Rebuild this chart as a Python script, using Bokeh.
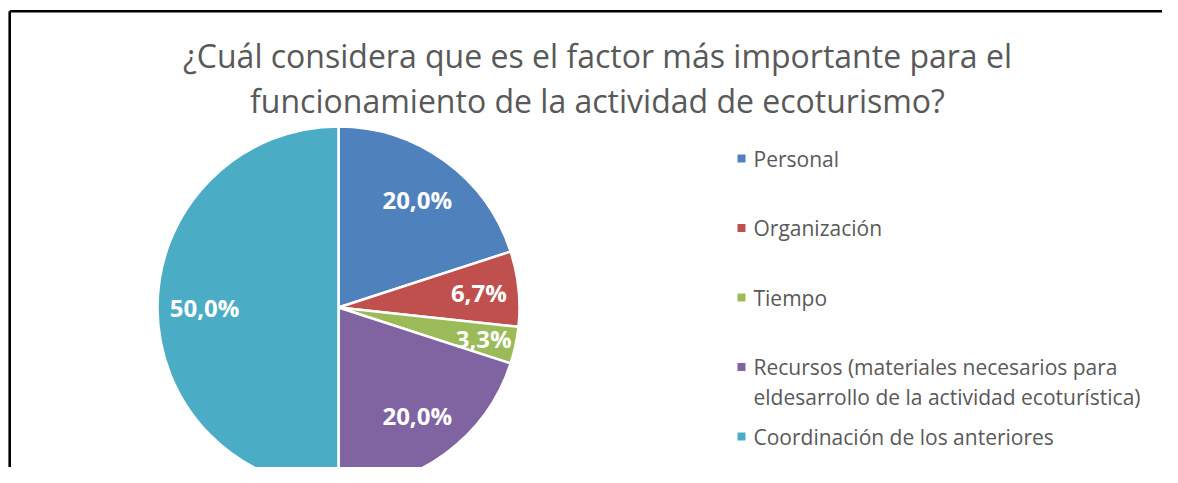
import numpy as np
from bokeh.plotting import figure
from bokeh.models import Range1d, ColumnDataSource
from bokeh.core.properties import value
from bokeh.embed import file_html
from bokeh.resources import INLINE

# ---- data ----
categories = [
    "Personal",
    "Organización",
    "Tiempo",
    "Recursos (materiales necesarios para\neldesarrollo de la actividad ecoturística)",
    "Coordinación de los anteriores",
]
shares = [20.0, 6.7, 3.3, 20.0, 50.0]
colors = ["#4F81BD", "#C0504D", "#9BBB59", "#8064A2", "#4BACC6"]
title_lines = [
    "¿Cuál considera que es el factor más importante para el",
    "funcionamiento de la actividad de ecoturismo?",
]

W, H = 1162, 467
FONT = "Open Sans"
TXT = "#595959"

def sy(y_screen):
    return H - y_screen

def sx(x_screen):
    return x_screen

p = figure(width=W, height=H, x_range=Range1d(0, W), y_range=Range1d(0, H),
           output_backend="svg", toolbar_location=None,
           min_border=0, min_border_left=0, min_border_right=0,
           min_border_top=0, min_border_bottom=0)
p.axis.visible = False
p.grid.visible = False
p.outline_line_color = None
p.background_fill_color = "white"
p.border_fill_color = "white"

# frame (top and left edges)
p.segment(x0=[sx(9.2), sx(9.2)], y0=[sy(10.8), sy(10.8)],
          x1=[sx(W), sx(9.2)], y1=[sy(10.8), sy(H)],
          line_color="black", line_width=2.6)

# ---- pie ----
cx, cy, R = sx(338), sy(307), 181
fr = np.array(shares) / sum(shares)
cum = np.concatenate([[0], np.cumsum(fr)])
start = np.pi / 2 - 2 * np.pi * cum[:-1]
end = np.pi / 2 - 2 * np.pi * cum[1:]
src = ColumnDataSource(dict(start=start, end=end, color=colors))
p.wedge(x=cx, y=cy, radius=R, start_angle="start", end_angle="end",
        direction="clock", fill_color="color", line_color="white",
        line_width=2.5, source=src)

# data labels
mid = (start + end) / 2
rf = 0.74 + np.clip(0.1 - fr, 0, None) * 1.2
lx = cx + R * rf * np.cos(mid)
ly = cy + R * rf * np.sin(mid)
labels = [f"{v:.1f}".replace(".", ",") + "%" for v in shares]
p.text(x=lx, y=ly, text=labels, text_color="white", text_font=value(FONT),
       text_font_style="bold", text_font_size="24px",
       text_align="center", text_baseline="middle")

# ---- title ----
p.text(x=[sx(597), sx(597)], y=[sy(55), sy(100)], text=title_lines,
       text_color=TXT, text_font=value(FONT), text_font_size="32px",
       text_align="center", text_baseline="middle")

# ---- legend ----
sq_x, sq_y, tx, ty = [], [], [], []
tlines = []
for i, (name, col) in enumerate(zip(categories, colors)):
    y0 = 158 + 69.5 * i
    sq_x.append(sx(741)); sq_y.append(sy(y0))
    for j, line in enumerate(name.split("\n")):
        tx.append(sx(753)); ty.append(sy(y0 + 30 * j)); tlines.append(line)
p.rect(x=sq_x, y=sq_y, width=8, height=8, fill_color=colors, line_color=None)
p.text(x=tx, y=ty, text=tlines, text_color=TXT, text_font=value(FONT),
       text_font_size="21px", text_align="left", text_baseline="middle")

open("out.html", "w").write(file_html(p, INLINE))
